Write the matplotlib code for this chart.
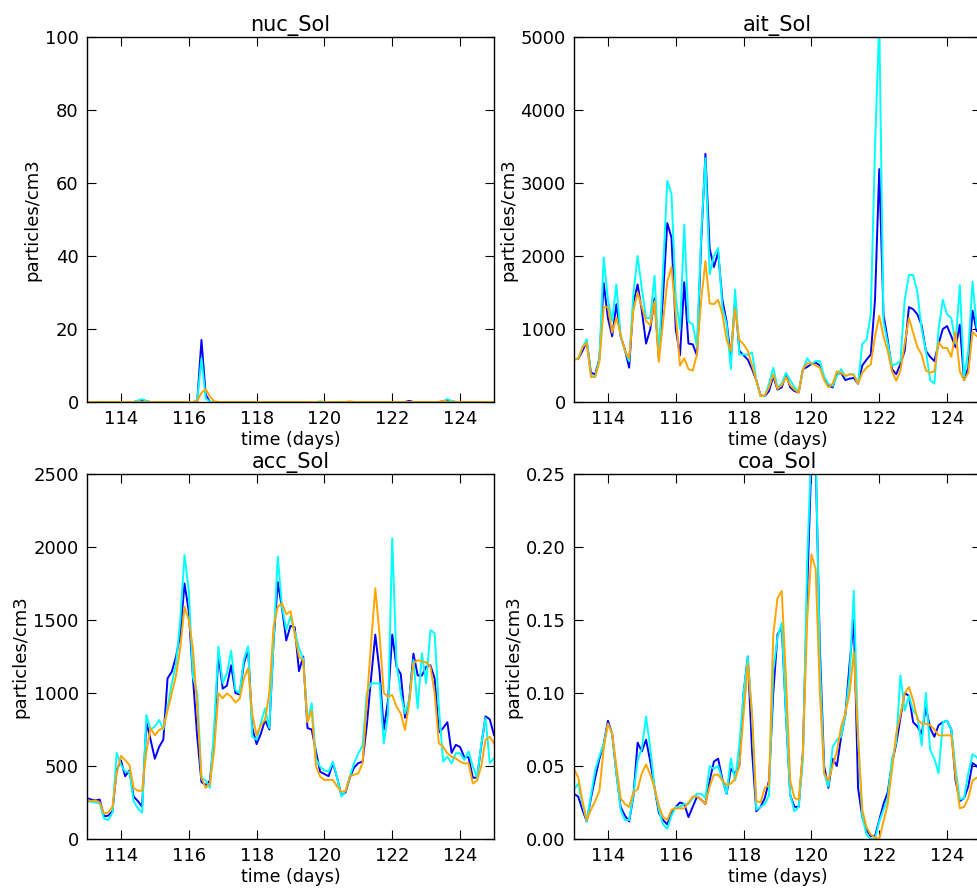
import numpy as np
import matplotlib
matplotlib.use("Agg")
import matplotlib.pyplot as plt

# ---------------- data ----------------
time_start, time_end, n_times = 113.0, 125.0, 97
time = np.linspace(time_start, time_end, n_times)

nuc_blue = [0, 0, 0, 0, 0, 0, 0, 0, 0, 0,
            0, 0, 0.3, 0.5, 0.2, 0, 0, 0, 0, 0,
            0, 0, 0, 0, 0, 0, 0.2, 17, 2.0, 0,
            0, 0, 0, 0, 0, 0, 0, 0, 0, 0,
            0, 0, 0, 0, 0, 0, 0, 0, 0, 0,
            0, 0, 0, 0, 0, 0, 0, 0, 0, 0,
            0, 0, 0, 0, 0, 0, 0, 0, 0, 0,
            0, 0, 0, 0, 0, 0, 0.3, 0, 0, 0,
            0, 0, 0, 0, 0.2, 0.6, 0.2, 0, 0, 0,
            0, 0, 0, 0, 0, 0, 0]
nuc_cyan = [0, 0, 0, 0, 0, 0, 0, 0, 0, 0,
            0, 0, 0.4, 0.8, 0.3, 0, 0, 0, 0, 0,
            0, 0, 0, 0, 0, 0, 0.5, 12, 1.0, 0,
            0, 0, 0, 0, 0, 0, 0, 0, 0, 0,
            0, 0, 0, 0, 0, 0, 0, 0, 0, 0,
            0, 0, 0, 0, 0, 0.2, 0, 0, 0, 0,
            0, 0, 0, 0, 0, 0, 0, 0, 0, 0,
            0, 0, 0, 0, 0, 0, 0, 0, 0, 0,
            0, 0, 0, 0, 0, 0.8, 0.3, 0, 0, 0,
            0, 0, 0, 0, 0, 0, 0]
nuc_orange = [0, 0, 0, 0, 0, 0, 0, 0, 0, 0,
              0, 0, 0, 0, 0, 0, 0, 0, 0, 0,
              0, 0, 0, 0, 0, 0, 0.3, 2.5, 3.5, 1.5,
              0.2, 0, 0, 0, 0, 0, 0, 0, 0, 0,
              0, 0, 0, 0, 0, 0, 0, 0, 0, 0,
              0, 0, 0, 0, 0, 0, 0, 0, 0, 0,
              0, 0, 0.2, 0, 0, 0, 0, 0, 0, 0,
              0, 0, 0, 0, 0, 0, 0, 0, 0, 0,
              0, 0, 0, 0, 0.3, 0, 0, 0, 0, 0,
              0, 0, 0, 0, 0, 0, 0]

ait_blue = [585, 590, 700, 830, 400, 380, 600, 1630, 1150, 900,
            1340, 900, 720, 470, 1350, 1610, 1250, 800, 1000, 1420,
            600, 1450, 2450, 2250, 1000, 640, 1640, 800, 790, 640,
            2200, 3400, 2100, 1850, 2050, 1400, 1100, 600, 1400, 700,
            640, 580, 450, 300, 90, 80, 150, 350, 170, 200,
            380, 200, 150, 130, 450, 480, 520, 540, 500, 330,
            230, 200, 380, 400, 300, 320, 330, 250, 500, 580,
            650, 1400, 3190, 1200, 850, 450, 380, 520, 700, 1300,
            1270, 1200, 1050, 700, 620, 560, 800, 1000, 1040, 900,
            750, 1060, 300, 470, 1250, 970, 950]
ait_cyan = [580, 600, 750, 860, 360, 340, 600, 1980, 1400, 1110,
            1610, 900, 700, 560, 1480, 2000, 1550, 1150, 1150, 1730,
            600, 1800, 3030, 2850, 1430, 1000, 2430, 1100, 1064, 750,
            2300, 3340, 1750, 2000, 2110, 1300, 1064, 450, 1540, 650,
            650, 650, 680, 300, 80, 80, 250, 470, 200, 250,
            400, 300, 200, 150, 450, 600, 520, 560, 560, 350,
            250, 220, 350, 450, 350, 380, 380, 250, 800, 850,
            1200, 3500, 5200, 1100, 800, 500, 520, 560, 1400, 1740,
            1740, 1500, 1000, 700, 300, 250, 1000, 1400, 1200, 1150,
            800, 1600, 350, 700, 1650, 1020, 950]
ait_orange = [585, 590, 750, 810, 340, 350, 550, 1300, 1300, 950,
              1155, 920, 700, 600, 1250, 1500, 1300, 1110, 1050, 1380,
              550, 1100, 1650, 1850, 1200, 500, 600, 450, 430, 650,
              1400, 1930, 1350, 1340, 1400, 1200, 850, 700, 1270, 850,
              790, 700, 500, 300, 80, 90, 200, 380, 180, 230,
              340, 230, 170, 130, 450, 530, 530, 500, 470, 300,
              200, 250, 420, 400, 360, 380, 370, 250, 400, 470,
              515, 900, 1180, 900, 700, 420, 290, 430, 800, 1150,
              950, 750, 650, 430, 400, 420, 820, 740, 740, 620,
              960, 420, 300, 400, 960, 900, 880]

acc_blue = [280, 270, 265, 270, 155, 160, 190, 470, 540, 430,
            470, 290, 260, 220, 800, 680, 550, 630, 680, 1100,
            1146, 1250, 1400, 1750, 1560, 1100, 700, 390, 370, 400,
            700, 1270, 1030, 1050, 1190, 1000, 990, 1200, 1300, 760,
            650, 720, 815, 750, 1350, 1760, 1580, 1360, 1460, 1450,
            1150, 1250, 760, 750, 600, 460, 445, 430, 520, 420,
            300, 320, 420, 490, 520, 530, 780, 1100, 1400, 1150,
            750, 950, 1400, 1180, 1130, 830, 950, 1270, 1120, 1120,
            1180, 1190, 1100, 730, 760, 800, 590, 645, 630, 560,
            560, 420, 420, 640, 840, 820, 712]
acc_cyan = [256, 256, 250, 245, 140, 130, 180, 590, 510, 461,
            461, 260, 210, 180, 850, 750, 770, 815, 750, 900,
            1066, 1200, 1500, 1945, 1700, 1110, 1000, 420, 400, 350,
            770, 1317, 1066, 1135, 1290, 1020, 1000, 1230, 1320, 700,
            680, 792, 895, 760, 1350, 1934, 1591, 1431, 1523, 1420,
            1310, 1230, 800, 930, 550, 495, 470, 461, 530, 420,
            290, 330, 430, 520, 587, 640, 1000, 1066, 1066, 1066,
            655, 850, 2060, 1200, 998, 860, 952, 1226, 895, 1272,
            1066, 1430, 1410, 900, 530, 564, 518, 587, 587, 541,
            600, 500, 420, 650, 830, 520, 552]
acc_orange = [267, 260, 265, 250, 176, 180, 220, 450, 570, 540,
              507, 350, 330, 330, 600, 760, 710, 747, 760, 880,
              998, 1120, 1310, 1591, 1500, 1300, 900, 420, 350, 380,
              610, 998, 963, 998, 975, 935, 960, 1100, 1170, 850,
              712, 780, 815, 1000, 1454, 1591, 1614, 1540, 1560, 1400,
              1250, 1220, 800, 880, 500, 427, 405, 405, 405, 360,
              324, 330, 430, 440, 450, 520, 940, 1340, 1717, 1400,
              1000, 975, 986, 906, 860, 747, 929, 1203, 1226, 1215,
              1210, 1180, 1000, 655, 632, 587, 564, 552, 530, 518,
              518, 380, 400, 500, 680, 700, 655]

coa_blue = [.031, .029, .020, .012, .028, .042, .055, .065, .081, .072,
            .045, .022, .016, .012, .029, .066, .060, .068, .053, .035,
            .018, .013, .010, .018, .022, .025, .024, .015, .022, .029,
            .027, .024, .040, .053, .055, .041, .031, .048, .045, .050,
            .100, .125, .060, .019, .022, .028, .040, .100, .140, .145,
            .085, .030, .022, .022, .060, .170, .260, .260, .130, .050,
            .035, .055, .050, .070, .085, .120, .150, .035, .015, .006,
            .002, .002, .013, .024, .032, .052, .065, .083, .100, .098,
            .080, .077, .072, .090, .076, .070, .078, .080, .081, .075,
            .040, .026, .028, .036, .052, .050, .045]
coa_cyan = [.034, .038, .024, .012, .030, .047, .057, .065, .079, .072,
            .045, .020, .013, .013, .030, .054, .062, .084, .062, .035,
            .020, .010, .007, .016, .022, .022, .024, .024, .028, .031,
            .031, .028, .050, .048, .050, .040, .031, .055, .040, .065,
            .100, .125, .085, .020, .022, .024, .030, .115, .138, .148,
            .085, .030, .019, .022, .055, .190, .270, .270, .120, .045,
            .036, .063, .068, .070, .085, .112, .170, .070, .015, .003,
            .000, .000, .012, .020, .028, .055, .066, .112, .088, .098,
            .088, .084, .064, .100, .061, .055, .045, .080, .081, .075,
            .048, .027, .028, .045, .058, .056, .050]
coa_orange = [.048, .042, .026, .013, .020, .026, .033, .062, .079, .072,
              .050, .028, .024, .022, .032, .034, .045, .051, .044, .035,
              .023, .015, .013, .020, .021, .021, .021, .025, .029, .029,
              .027, .024, .036, .044, .044, .040, .037, .038, .041, .050,
              .085, .120, .085, .026, .025, .035, .037, .140, .165, .170,
              .110, .040, .028, .027, .060, .150, .195, .185, .100, .045,
              .040, .050, .060, .077, .086, .100, .128, .070, .020, .008,
              .003, .001, .000, .012, .024, .047, .072, .085, .100, .104,
              .095, .082, .079, .079, .078, .075, .071, .071, .071, .071,
              .043, .021, .022, .028, .040, .042, .042]

panels = [
    ("nuc_Sol", [nuc_blue, nuc_cyan, nuc_orange], (0, 100), [0, 20, 40, 60, 80, 100]),
    ("ait_Sol", [ait_blue, ait_cyan, ait_orange], (0, 5000), [0, 1000, 2000, 3000, 4000, 5000]),
    ("acc_Sol", [acc_blue, acc_cyan, acc_orange], (0, 2500), [0, 500, 1000, 1500, 2000, 2500]),
    ("coa_Sol", [coa_blue, coa_cyan, coa_orange], (0, 0.25), [0.00, 0.05, 0.10, 0.15, 0.20, 0.25]),
]
series_colors = ["#0000ff", "#00ffff", "#ffa500"]
x_ticks = [114, 116, 118, 120, 122, 124]

# ---------------- style ----------------
plt.rcParams.update({
    "font.family": ["DejaVu Sans"],
    "xtick.direction": "in",
    "ytick.direction": "in",
    "xtick.top": True,
    "ytick.right": True,
    "xtick.major.size": 6.5,
    "ytick.major.size": 6.5,
    "xtick.major.pad": 6,
    "ytick.major.pad": 6,
    "xtick.labelsize": 13,
    "ytick.labelsize": 13,
    "axes.linewidth": 1.0,
})

W, H = 977, 891
fig = plt.figure(figsize=(W / 100, H / 100), dpi=100, facecolor="white")

ax_w = 407 / W
ax_h = 365 / H
lefts = [87 / W, 574 / W]
bottoms = [1 - 402 / H, 1 - 839 / H]

for k, (title, series, ylim, yticks) in enumerate(panels):
    row, col = divmod(k, 2)
    ax = fig.add_axes([lefts[col], bottoms[row], ax_w, ax_h])
    for vals, c in zip(series, series_colors):
        ax.plot(time, vals, color=c, lw=1.4)
    ax.set_xlim(time_start, time_end)
    ax.set_ylim(*ylim)
    ax.set_xticks(x_ticks)
    ax.set_yticks(yticks)
    if k == 3:
        ax.set_yticklabels([f"{v:.2f}" for v in yticks])
    ax.set_title(title, fontsize=15, pad=4.5)
    ax.set_xlabel("time (days)", fontsize=12.5, labelpad=2)
    ax.set_ylabel("particles/cm3", fontsize=13, labelpad=2.5)

fig.savefig("out.png", dpi=100, facecolor="white")
